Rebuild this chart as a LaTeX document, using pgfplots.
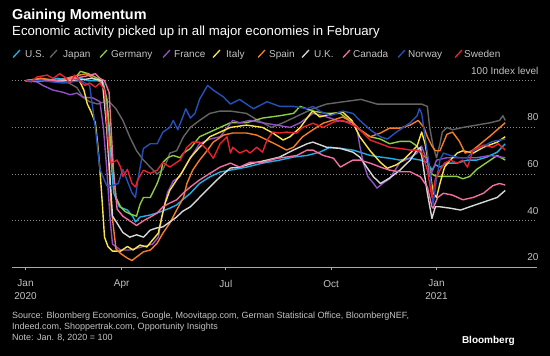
\documentclass[border=0pt]{standalone}
\usepackage{fontspec}
\setmainfont{Liberation Sans}
\usepackage{pgfplots}
\pgfplotsset{compat=1.18}
\definecolor{cUS}{RGB}{29,176,232}
\definecolor{cJP}{RGB}{100,100,100}
\definecolor{cDE}{RGB}{140,205,65}
\definecolor{cFR}{RGB}{145,80,195}
\definecolor{cIT}{RGB}{250,228,70}
\definecolor{cES}{RGB}{245,125,40}
\definecolor{cUK}{RGB}{215,215,215}
\definecolor{cCA}{RGB}{240,110,160}
\definecolor{cNO}{RGB}{35,80,185}
\definecolor{cSE}{RGB}{232,35,45}
\definecolor{tgray}{RGB}{195,195,195}
\definecolor{gridc}{RGB}{140,140,140}
\definecolor{axgray}{RGB}{170,170,170}
\begin{document}
\begin{tikzpicture}[x=1pt,y=1pt]
\fill[black] (0,0) rectangle (550,356);
\useasboundingbox (0,0) rectangle (550,356);
\node[anchor=base west, inner sep=0, text=white, font=\bfseries\fontsize{14.4}{16}\selectfont] at (12,336) {Gaining Momentum};
\node[anchor=base west, inner sep=0, text=white, font=\fontsize{13.2}{15}\selectfont] at (12,320.5) {Economic activity picked up in all major economies in February};
\foreach \c/\m/\x/\t in {cUS/13/25/U.S., cJP/50/63/Japan, cDE/100/111/Germany, cFR/163/174/France, cIT/213/226/Italy, cES/258/269/Spain, cUK/302/314/U.K., cCA/343/353/Canada, cNO/398/408/Norway, cSE/455/464/Sweden}{
  \draw[\c, line width=1.3pt] (\m,298.5) -- (\m+7,306);
  \node[anchor=base west, inner sep=0, text=tgray, font=\fontsize{10}{12}\selectfont] at (\x,298) {\t};
}
\node[anchor=base west, inner sep=0, text=tgray, font=\fontsize{9}{11}\selectfont] at (12,37.5) {Source: Bloomberg Economics, Google, Moovitapp.com, German Statistical Office, BloombergNEF,};
\node[anchor=base west, inner sep=0, text=tgray, font=\fontsize{9}{11}\selectfont] at (12,26) {Indeed.com, Shoppertrak.com, Opportunity Insights};
\node[anchor=base west, inner sep=0, text=tgray, font=\fontsize{9}{11}\selectfont] at (12,15) {Note: Jan. 8, 2020 = 100};
\node[anchor=base east, inner sep=0, text=white, font=\bfseries\fontsize{10}{12}\selectfont] at (515,12) {Bloomberg};
\begin{axis}[
  at={(12pt,88.5pt)}, anchor=south west, scale only axis,
  width=524.6pt, height=200.8pt,
  xmin=-4.8, xmax=453.4, ymin=20, ymax=106,
  axis line style={draw=none},
  clip=false,
  xtick={7,91,182,274,366},
  xticklabels={Jan\\2020,Apr,Jul,Oct,Jan\\2021},
  xtick pos=bottom, tick align=outside, major tick length=3pt,
  xtick style={draw=axgray, line width=0.8pt},
  xticklabel style={align=center, text=tgray, yshift=-6pt, font=\fontsize{10}{13}\selectfont},
  ytick={20,40,60,80,100},
  yticklabels={20,40,60,80,100 Index level},
  ytick pos=right, yticklabel pos=right,
  ytick style={draw=none},
  yticklabel style={anchor=base east, inner sep=0pt, xshift=-1pt, yshift=6.5pt, text=tgray, font=\fontsize{10}{12}\selectfont},
  ymajorgrids,
  grid style={gridc, line width=0.8pt, dash pattern=on 0.8pt off 2.2pt},
  /pgf/number format/assume math mode=true,
  every axis plot/.append style={line width=1.4pt, line join=round, no markers},
]
\draw[axgray, line width=0.8pt] (rel axis cs:0,0) -- (rel axis cs:1,0);
% U.S.
\addplot[cUS] coordinates {(7,100)(15,100.5)(25,100)(35,101)(45,100.5)(55,101)(62,100)(70,100)(75,99)(78,92)(81,70)(84,52)(89,46)(96,44.6)(101,41.6)(103,39.5)(107,41.6)(116,42.5)(124,43.7)(133,45.4)(139,46.8)(144,48.9)(151,51.8)(159,56)(168,58.8)(177,60.9)(186,61.7)(200,63)(214,64.7)(229,66)(241,67.3)(253,68)(264,69.4)(273,71.5)(282,71)(293,70.3)(299,69.4)(308,68)(317,67.3)(325,66.8)(334,66)(343,66.8)(352,66)(358,65)(362,61.7)(365,64)(369,63)(375,64.7)(384,64.7)(393,66)(401,66)(410,67.3)(419,69.4)(426,73)};
% Japan
\addplot[cJP] coordinates {(7,100)(20,100)(35,100)(45,99)(52,97)(57,93)(63,91)(70,90)(76,91)(80,91)(86,88)(92,83)(98,76)(104,70)(110,66)(116,63)(122,60)(127,62)(131,66)(133,69)(139,70)(145,76)(151,80)(159,83)(168,86)(177,87)(186,87)(200,86)(210,83)(222,80)(232,82)(245,85)(258,88)(270,90)(285,91)(300,92)(314,90)(330,90)(343,90)(353,90)(358,89)(360,80)(363,72)(366,67)(369,73)(371,78)(375,80)(380,79)(389,80)(401,81)(413,82)(421,83)(424,85)(426,83)};
% Germany
\addplot[cDE] coordinates {(7,100)(20,101)(35,100)(50,101)(55,104)(62,103)(70,101)(74,100)(78,92)(82,70)(86,50)(90,46)(94,44)(98,43)(104,42)(107,47)(110,50)(116,50)(122,56)(125,60)(127,65)(131,67)(136,68)(142,67)(145,69)(151,71)(159,76)(168,78)(177,80)(186,82)(200,82)(214,84)(229,85)(241,86)(247,89)(258,87)(270,86)(282,86)(290,83)(299,79)(308,76)(317,75)(325,73)(334,74)(343,74)(349,72)(353,68)(358,67)(360,62)(362,60)(366,59)(375,59)(384,59)(389,58)(395,59)(401,62)(410,65)(419,68)(426,66)};
% France
\addplot[cFR] coordinates {(7,100)(17,99.5)(22,98)(31,96)(40,95)(46,94)(52,94.7)(57,93)(66,92.6)(72,91)(75,80)(78,62)(81,40)(83,30)(90,27.5)(98,27.5)(110,29)(118,30)(123,33)(127,44)(131,52)(136,57)(142,59)(145,62)(151,67)(159,73)(168,75)(177,76)(188,83)(194,82)(203,83)(214,82)(226,81)(238,80)(247,82)(258,86)(267,85)(279,83)(293,82)(297,78)(299,72)(302,65)(306,59)(311,56)(314,54)(319,56)(325,58)(334,65)(343,67)(349,69)(353,72)(358,65)(360,59)(363,62)(366,66)(375,67)(387,67)(401,67)(413,68)(426,67)};
% Italy
\addplot[cIT] coordinates {(7,100)(20,100)(35,100)(45,101)(52,102)(55,99)(58,96)(61,90)(64,87)(68,82)(70,73)(72,62)(74,48)(76,33)(79,29)(83,27)(90,27)(96,29)(101,27.5)(107,29.6)(113,28.8)(118,31.8)(123,34.7)(126,41.6)(129,47.6)(133,53)(139,57.5)(144,61)(151,67)(159,71.5)(168,76)(177,78)(186,80)(200,81)(214,80)(223,77.6)(232,74.6)(238,76)(247,80)(256,86)(258,87)(264,84.5)(276,86)(284,86.6)(292,83)(299,76)(308,70)(317,65)(323,62.5)(331,64)(337,66)(343,69)(349,72)(353,78)(356,73)(360,62)(363,52)(366,50)(369,56)(373,63)(378,66)(384,69)(389,70)(398,69)(407,71.5)(419,73.7)(426,76)};
% Spain
\addplot[cES] coordinates {(7,100)(20,101)(35,100)(50,102)(60,103)(66,101)(72,100)(75,98)(78,80)(82,45)(86,28)(90,26)(96,24)(100,23)(104,24.5)(110,26.7)(116,27.5)(122,30.4)(127,34.7)(133,39)(139,44.6)(145,50)(148,56)(153,61.7)(159,66)(166,70.3)(171,73.7)(180,76.7)(188,77.6)(200,77.6)(209,76.7)(218,74.6)(227,72.4)(235,70.3)(241,71.5)(249,76)(258,79)(267,81.8)(276,83.2)(284,84.5)(293,82)(299,79)(308,76)(317,77.6)(325,79.7)(334,79.7)(343,81)(350,83)(355,80)(358,76)(362,72)(365,70)(369,70)(375,77)(380,78)(386,74)(391,69)(397,70)(402,72)(412,76)(426,82)};
% U.K.
\addplot[cUK] coordinates {(7,100)(30,100)(50,100)(65,101)(74,100)(78,80)(83,42)(87,39)(92,35)(98,33)(104,34)(110,33)(116,36)(122,37)(127,37.4)(133,39.5)(139,41.6)(144,44)(151,46)(159,50)(168,54.5)(177,58.8)(186,62.6)(194,63)(206,64.7)(218,66)(229,67.3)(241,70.3)(253,73)(258,73.7)(270,71.5)(282,71)(293,69.4)(299,67.3)(305,63)(311,58.8)(317,56)(325,58.3)(334,61.7)(343,66)(349,70.3)(352,71.5)(354,64.7)(358,51.8)(362,41)(365,46)(369,46)(378,45.4)(387,44.6)(395,46)(407,48)(419,50)(426,53)};
% Canada
\addplot[cCA] coordinates {(7,100)(30,100)(50,101)(60,102)(68,103)(72,101)(76,100)(80,95)(84,60)(87,45)(92,42)(98,40)(104,38)(110,40)(116,41.6)(122,43.3)(127,46)(133,47.6)(139,49)(145,52)(151,54.5)(159,57.5)(168,60.3)(177,63)(186,64.7)(194,63)(203,65)(214,65)(227,66.8)(235,67.3)(244,68)(253,70.3)(258,70.3)(267,68)(276,66.8)(282,63)(288,64.7)(293,66)(299,66)(308,64.7)(317,63)(325,61.7)(334,61)(343,61)(352,58.8)(358,54.5)(362,46)(363,45.4)(367,50)(372,51.8)(380,51)(389,49)(398,50)(407,51.8)(415,55)(421,56)(426,55.3)};
% Norway
\addplot[cNO] coordinates {(7,100)(20,100)(40,99)(55,100)(63,98)(68,80)(72,62)(78,55)(83,55)(88,56)(92,62)(96,57)(100,52)(103,50)(105,57)(110,71)(116,73)(122,73)(127,78)(133,80)(136,83)(140,79)(144,84)(147,88)(151,84)(155,86)(159,92)(166,98)(171,96)(180,93)(186,90)(194,92)(206,88)(218,91)(229,89)(241,89)(253,88)(258,89)(264,87)(273,85)(284,87)(293,86)(299,83)(308,79)(317,76)(323,75)(331,78)(337,80)(343,82)(349,85)(351,88)(353,86)(356,76)(360,62)(363,47)(366,58)(369,66)(372,69)(378,68)(386,67)(393,67)(398,70)(407,72)(415,74)(426,75)};
% Sweden
\addplot[cSE] coordinates {(7,100)(12,99.5)(17,101.6)(26,102.4)(31,101)(37,103)(41,101.6)(46,99)(50,102.4)(53,101)(56,99)(59,98)(63,99)(68,97.3)(72,99)(76,96)(79,76)(81,65)(83,65)(87,66)(90,63)(92,59)(96,62)(100,56)(103,54.5)(105,57.5)(110,61.7)(116,60.3)(122,61.7)(127,65)(133,63)(139,65)(142,66)(148,71.5)(153,73.7)(159,73.7)(166,70.3)(171,66.8)(177,73)(183,76)(186,69)(188,71.5)(194,69)(200,70.3)(203,69)(209,71.5)(214,69.4)(218,74.6)(223,78)(229,77.6)(235,78)(244,77.6)(249,80)(258,81.8)(267,80)(276,82.3)(284,83)(293,81)(297,80)(302,77.6)(308,74.6)(317,73)(325,71.5)(334,71)(343,70.3)(349,70.3)(353,69.4)(358,61.7)(362,50)(365,58)(369,61.7)(373,64.7)(378,66)(384,64.7)(389,66)(393,63)(398,70.3)(407,72.4)(415,71.5)(420,73)(426,70.3)};
\end{axis}
\end{tikzpicture}
\end{document}
